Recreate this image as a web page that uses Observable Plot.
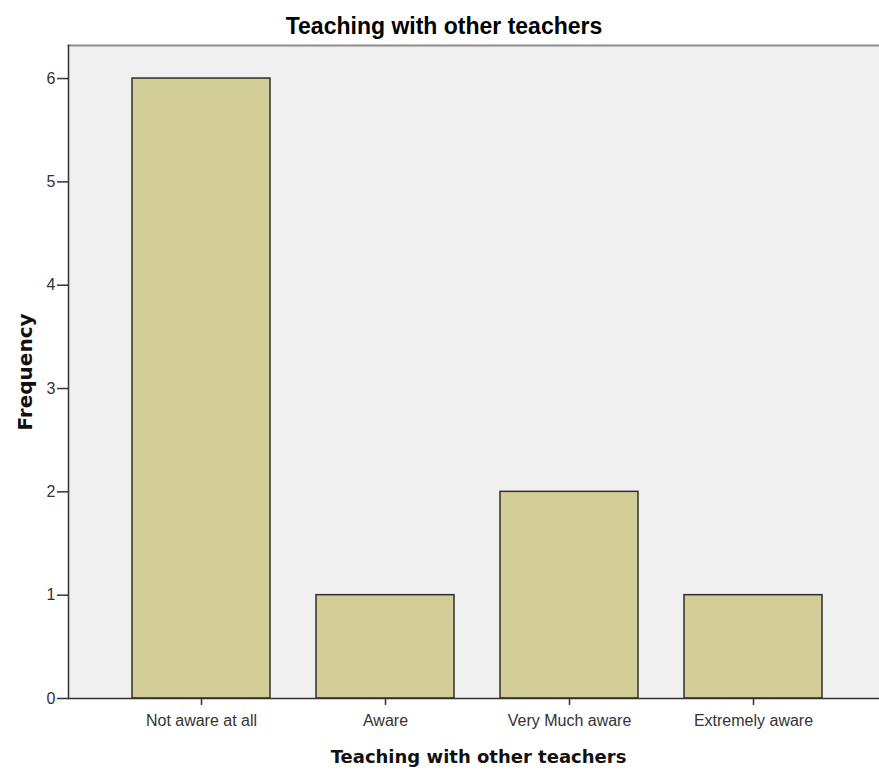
<!DOCTYPE html>
<html>
<head>
<meta charset="utf-8">
<script src="https://cdn.jsdelivr.net/npm/d3@7"></script>
<script src="https://cdn.jsdelivr.net/npm/@observablehq/plot@0.6"></script>
<style>
  html, body { margin: 0; padding: 0; background: #fff; }
  #wrap { width: 879px; height: 772px; overflow: hidden; position: relative; }
  #title { height: 44px; width: 879px; position: relative; }
  #title span { position: absolute; left: 444px; top: 13px; transform: translateX(-50%);
    font-family: "Liberation Sans", Arial, sans-serif; font-weight: bold; font-size: 23px; line-height: 26px; color: #000; white-space: nowrap; }
  svg { display: block; }
</style>
</head>
<body>
<div id="wrap">
  <div id="title"><span>Teaching with other teachers</span></div>
  <div id="chart"></div>
</div>
<script>
const categories = ["Not aware at all", "Aware", "Very Much aware", "Extremely aware"];
const frequencies = [6, 1, 2, 1];
const yTicks = [0, 1, 2, 3, 4, 5, 6];
const titleText = "Teaching with other teachers";
const xLabel = "Teaching with other teachers";
const yLabel = "Frequency";

const data = categories.map((c, i) => ({category: c, value: frequencies[i]}));

const chart = Plot.plot({
  width: 879,
  height: 728,
  marginTop: 1,
  marginBottom: 74,
  marginLeft: 68,
  marginRight: 0,
  style: {fontFamily: "'Liberation Sans', Arial, sans-serif", fontSize: "15px", color: "#333", background: "transparent"},
  x: {type: "band", domain: categories, range: [68, 886], paddingInner: 0.25, paddingOuter: 0.34, align: 0.5, label: null},
  y: {domain: [0, 6.32], label: null},
  marks: [
    Plot.frame({fill: "#f0f0f0", stroke: null}),
    Plot.frame({anchor: "top", stroke: "#8c8c8c", strokeWidth: 2}),
    Plot.barY(data, {x: "category", y: "value", fill: "#d3ce98", stroke: "#2e2e2e", strokeWidth: 1.5}),
    Plot.frame({anchor: "left", stroke: "#333", strokeWidth: 1.5}),
    Plot.ruleY([0], {stroke: "#333", strokeWidth: 1.5}),
    Plot.axisY({ticks: yTicks, tickFormat: d3.format("d"), tickSize: 11, tickPadding: 2, stroke: "#333", strokeWidth: 1.5, fill: "#333", fontSize: 16, label: null}),
    Plot.axisX({tickSize: 7, tickPadding: 9, stroke: "#333", strokeWidth: 1.5, fill: "#333", fontSize: 16, label: null}),
    Plot.text([xLabel], {frameAnchor: "bottom", dx: 4.5, dy: 59, fontFamily: "'DejaVu Sans', sans-serif", fontWeight: "bold", fontSize: 18, fill: "#111", lineAnchor: "middle"}),
    Plot.text([yLabel], {frameAnchor: "left", dx: -43, rotate: -90, textAnchor: "middle", fontFamily: "'DejaVu Sans', sans-serif", fontWeight: "bold", fontSize: 20, fill: "#111", lineAnchor: "middle"})
  ]
});
document.getElementById("chart").appendChild(chart);
</script>
</body>
</html>
